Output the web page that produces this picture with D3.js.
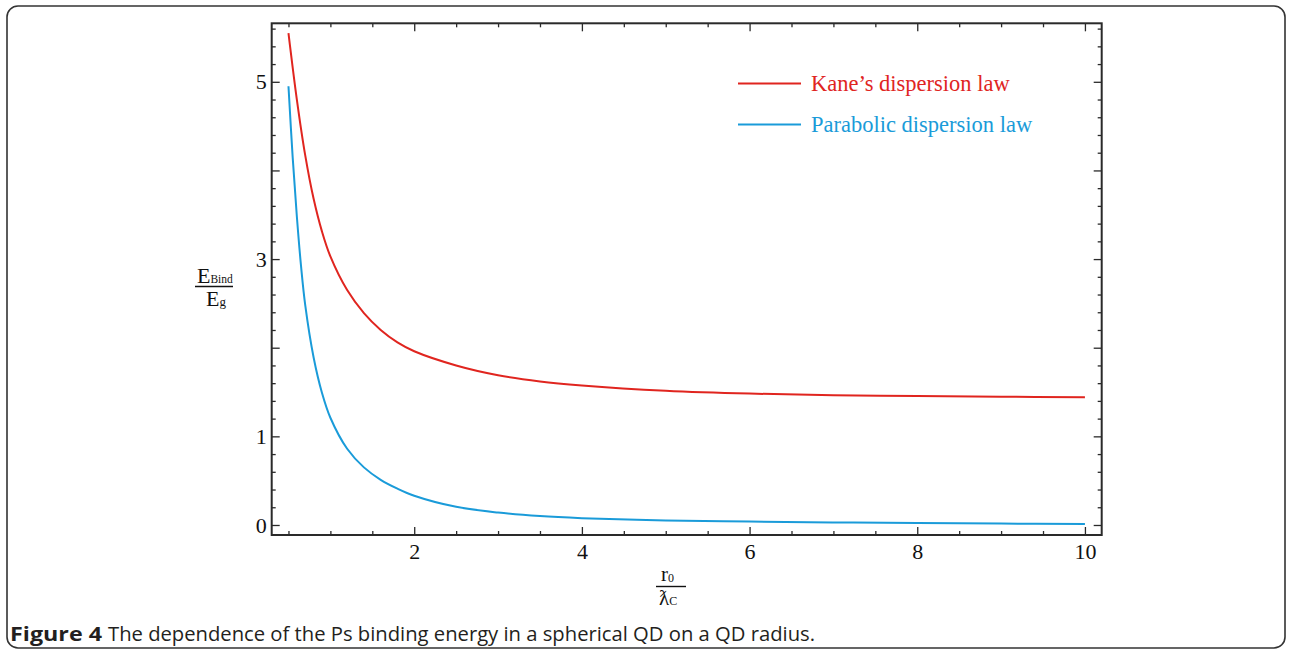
<!DOCTYPE html>
<html>
<head>
<meta charset="utf-8">
<script src="https://cdn.jsdelivr.net/npm/d3@7"></script>
<style>
  html, body { margin: 0; padding: 0; background: #fff; }
  svg { display: block; }
</style>
</head>
<body>
<svg id="chart" width="1289" height="651"></svg>
<script>
// ---- data ----
const kaneX = [0.5, 0.6, 0.7, 0.8, 0.9, 1.0, 1.2, 1.4, 1.6, 1.8, 2.0, 2.5, 3.0, 3.5, 4, 5, 6, 7, 8, 9, 10];
const kaneY = [5.55, 4.80, 4.17, 3.68, 3.31, 3.03, 2.65, 2.39, 2.20, 2.06, 1.96, 1.80, 1.69, 1.62, 1.575, 1.515, 1.482, 1.465, 1.455, 1.447, 1.44];
const paraX = [0.5, 0.55, 0.6, 0.65, 0.7, 0.8, 0.9, 1.0, 1.2, 1.4, 1.6, 1.8, 2.0, 2.5, 3.0, 3.5, 4, 5, 6, 7, 8, 9, 10];
const paraY = [4.95, 4.15, 3.48, 2.92, 2.48, 1.89, 1.49, 1.21, 0.86, 0.65, 0.51, 0.41, 0.33, 0.205, 0.14, 0.10, 0.077, 0.051, 0.038, 0.029, 0.022, 0.016, 0.011];
const seriesNames = ["Kane\u2019s dispersion law", "Parabolic dispersion law"];
const seriesColors = ["#e0251f", "#1a9bd9"];
const xMajorTicks = [2, 4, 6, 8, 10];
const xMinorTicks = [0.5, 1, 1.5, 2.5, 3, 3.5, 4.5, 5, 5.5, 6.5, 7, 7.5, 8.5, 9, 9.5];
const yMajorTicks = [0, 1, 2, 3, 4, 5];
const yLabelTicks = [0, 1, 3, 5];
const yMinorTicks = d3.range(0, 5.7, 0.2).map(v => +v.toFixed(1)).filter(v => Math.abs(v - Math.round(v)) > 1e-6);
const caption = ["Figure 4", "The dependence of the Ps binding energy in a spherical QD on a QD radius."];

// ---- layout ----
const svg = d3.select("#chart");
const L = 271.7, R = 1101.7, T = 23.3, B = 535;
const x = d3.scaleLinear().domain([0.30, 10.2]).range([L, R]);
const y = d3.scaleLinear().domain([-0.113, 5.66]).range([B, T]);
const serif = "'Liberation Serif', 'Times New Roman', serif";
const axisColor = "#2a2a2a";

// outer rounded frame
svg.append("rect").attr("x", 7).attr("y", 6).attr("width", 1278).attr("height", 642)
  .attr("rx", 11).attr("ry", 11).attr("fill", "none").attr("stroke", "#333").attr("stroke-width", 1.6);

// axes (ticks pointing inward on all four sides)
function styleAxis(g) {
  g.select(".domain").remove();
  g.selectAll(".tick line").attr("stroke", axisColor).attr("stroke-width", 1.3);
  g.selectAll(".tick text").attr("font-family", serif).attr("font-size", 22).attr("fill", "#111");
}
const fmtY = d => yLabelTicks.includes(d) ? String(d) : "";

// bottom
svg.append("g").attr("transform", `translate(0,${B})`)
  .call(d3.axisBottom(x).tickValues(xMajorTicks).tickSize(-8).tickPadding(8).tickFormat(d3.format("d")))
  .call(styleAxis);
svg.append("g").attr("transform", `translate(0,${B})`)
  .call(d3.axisBottom(x).tickValues(xMinorTicks).tickSize(-4).tickFormat(""))
  .call(styleAxis);
// top
svg.append("g").attr("transform", `translate(0,${T})`)
  .call(d3.axisTop(x).tickValues(xMajorTicks).tickSize(-8).tickFormat(""))
  .call(styleAxis);
svg.append("g").attr("transform", `translate(0,${T})`)
  .call(d3.axisTop(x).tickValues(xMinorTicks).tickSize(-4).tickFormat(""))
  .call(styleAxis);
// left
svg.append("g").attr("transform", `translate(${L},0)`)
  .call(d3.axisLeft(y).tickValues(yMajorTicks).tickSize(-8).tickPadding(5).tickFormat(fmtY))
  .call(styleAxis);
svg.append("g").attr("transform", `translate(${L},0)`)
  .call(d3.axisLeft(y).tickValues(yMinorTicks).tickSize(-4).tickFormat(""))
  .call(styleAxis);
// right
svg.append("g").attr("transform", `translate(${R},0)`)
  .call(d3.axisRight(y).tickValues(yMajorTicks).tickSize(-8).tickFormat(""))
  .call(styleAxis);
svg.append("g").attr("transform", `translate(${R},0)`)
  .call(d3.axisRight(y).tickValues(yMinorTicks).tickSize(-4).tickFormat(""))
  .call(styleAxis);

// plot frame
svg.append("rect").attr("x", L).attr("y", T).attr("width", R - L).attr("height", B - T)
  .attr("fill", "none").attr("stroke", axisColor).attr("stroke-width", 2);

// curves
const line = d3.line().x(d => x(d[0])).y(d => y(d[1])).curve(d3.curveCatmullRom.alpha(0.5));
const series = [d3.zip(kaneX, kaneY), d3.zip(paraX, paraY)];
series.forEach((s, i) => {
  svg.append("path").datum(s).attr("d", line).attr("fill", "none")
    .attr("stroke", seriesColors[i]).attr("stroke-width", 2);
});

// legend
const legY = [83.5, 124.5];
seriesNames.forEach((name, i) => {
  svg.append("line").attr("x1", 738).attr("x2", 801).attr("y1", legY[i]).attr("y2", legY[i])
    .attr("stroke", seriesColors[i]).attr("stroke-width", 2);
  svg.append("text").attr("x", 811).attr("y", legY[i] + 7).text(name)
    .attr("font-family", serif).attr("font-size", 22.5).attr("fill", seriesColors[i]);
});

// y-axis label: E_Bind / E_g
const yl = svg.append("g").attr("font-family", serif).attr("fill", "#111");
const yn = yl.append("text").attr("x", 197).attr("y", 283).attr("font-size", 22);
yn.append("tspan").text("E");
yn.append("tspan").attr("font-size", 11.5).attr("dy", 0).text("Bind");
yl.append("line").attr("x1", 195).attr("x2", 233).attr("y1", 286.5).attr("y2", 286.5)
  .attr("stroke", "#111").attr("stroke-width", 1.4);
const yd = yl.append("text").attr("x", 206).attr("y", 306).attr("font-size", 22);
yd.append("tspan").text("E");
yd.append("tspan").attr("font-size", 13).attr("dy", 0).text("g");

// x-axis label: r_0 / λ_C
const xl = svg.append("g").attr("font-family", serif).attr("fill", "#111");
const xn = xl.append("text").attr("x", 661).attr("y", 581).attr("font-size", 21);
xn.append("tspan").text("r");
xn.append("tspan").attr("font-size", 12).attr("dy", 1).text("0");
xl.append("line").attr("x1", 656).attr("x2", 686).attr("y1", 586.5).attr("y2", 586.5)
  .attr("stroke", "#111").attr("stroke-width", 1.4);
const xd = xl.append("text").attr("x", 659).attr("y", 605).attr("font-size", 21);
xd.append("tspan").text("\u019B");
xd.append("tspan").attr("font-size", 12).attr("dy", 0).text("C");

// caption
const capFont = "'Open Sans', 'Noto Sans', 'Liberation Sans', sans-serif";
svg.append("text").attr("x", 10).attr("y", 641).attr("font-family", capFont)
  .attr("font-weight", "bold").attr("font-size", 19.5).attr("fill", "#231f20")
  .attr("textLength", 92).attr("lengthAdjust", "spacingAndGlyphs").text(caption[0]);
svg.append("text").attr("x", 108).attr("y", 641).attr("font-family", capFont)
  .attr("font-size", 19.5).attr("fill", "#231f20")
  .attr("textLength", 707).attr("lengthAdjust", "spacingAndGlyphs").text(caption[1]);
</script>
</body>
</html>
